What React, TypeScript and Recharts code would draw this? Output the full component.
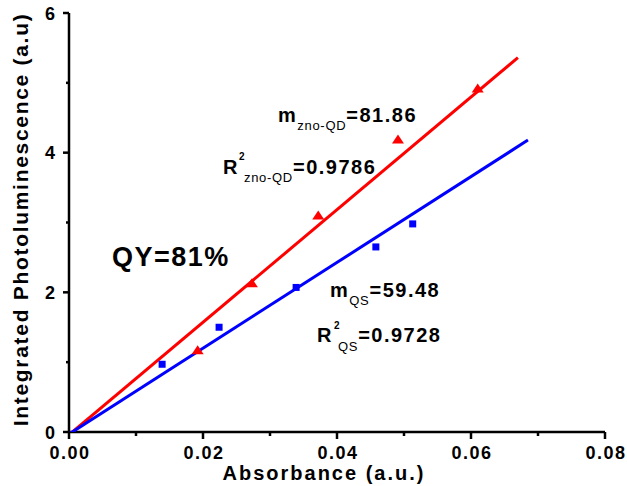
import { ScatterChart, Scatter, XAxis, YAxis } from 'recharts';

const FONT = "'Liberation Sans', Arial, sans-serif";

// ZnO-QD sample (red triangles)
const qdAbs = [0.0192, 0.0273, 0.0372, 0.0491, 0.061];
const qdPL = [1.17, 2.13, 3.1, 4.19, 4.92];
// quantum standard (blue squares)
const qsAbs = [0.0139, 0.0224, 0.0339, 0.0458, 0.0513];
const qsPL = [0.97, 1.5, 2.07, 2.65, 2.98];
// linear fits, end points
const qdFitAbs = [0, 0.067];
const qdFitPL = [-0.04, 5.36];
const qsFitAbs = [0, 0.0685];
const qsFitPL = [-0.03, 4.18];

const xTicks = [0, 0.01, 0.02, 0.03, 0.04, 0.05, 0.06, 0.07, 0.08];
const yTicks = [0, 1, 2, 3, 4, 5, 6];

const zip = (xs: number[], ys: number[]) => xs.map((x, i) => ({ x, y: ys[i] }));

const qdData = zip(qdAbs, qdPL);
const qsData = zip(qsAbs, qsPL);
const qdFit = zip(qdFitAbs, qdFitPL);
const qsFit = zip(qsFitAbs, qsFitPL);

function XTick({ x, y, payload }: any) {
  const v = payload.value as number;
  const major = Math.round(v * 100) % 2 === 0;
  return (
    <g>
      <line x1={x} x2={x} y1={y} y2={y + (major ? 7 : 4)} stroke="#000" strokeWidth={2.5} />
      {major && (
        <text x={x + 1} y={y + 26.5} textAnchor="middle" fontFamily={FONT} fontWeight="bold" fontSize={18}
          style={{ letterSpacing: 1.5 }} fill="#000">
          {v.toFixed(2)}
        </text>
      )}
    </g>
  );
}

function YTick({ x, y, payload }: any) {
  const v = payload.value as number;
  const major = v % 2 === 0;
  return (
    <g>
      <line x1={x} x2={x - (major ? 6 : 3)} y1={y} y2={y} stroke="#000" strokeWidth={2.5} />
      {major && (
        <text x={x - 14} y={y + 6.5} textAnchor="end" fontFamily={FONT} fontWeight="bold" fontSize={18} fill="#000">
          {v}
        </text>
      )}
    </g>
  );
}

const Triangle = ({ cx, cy }: any) => (
  <polygon points={`${cx - 6},${cy + 4} ${cx + 6},${cy + 4} ${cx},${cy - 5}`} fill="#ff0000" />
);
const Square = ({ cx, cy }: any) => <rect x={cx - 3.5} y={cy - 3.5} width={7} height={7} fill="#0000ff" />;
const NoDot = () => <g />;

const bold = { fontFamily: FONT, fontWeight: 'bold' as const, fill: '#000' };
const sub = { fontSize: 13, fontWeight: 'normal' as const, style: { letterSpacing: 0.7 } };

export default function App() {
  return (
    <div style={{ position: 'absolute', left: 0, top: 0, width: 627, height: 486, background: '#fff' }}>
      <ScatterChart width={627} height={486} margin={{ top: 13, right: 22, bottom: 0, left: 0 }}>
        <XAxis
          type="number"
          dataKey="x"
          domain={[0, 0.08]}
          ticks={xTicks}
          interval={0}
          allowDataOverflow
          tick={<XTick />}
          tickLine={false}
          tickSize={0}
          tickMargin={0}
          height={54}
          axisLine={{ stroke: '#000', strokeWidth: 2.5 }}
          label={(p: any) => (
            <text x={p.viewBox.x + p.viewBox.width / 2 - 13} y={p.viewBox.y + 48} textAnchor="middle"
              fontSize={20} style={{ letterSpacing: 2 }} {...bold}>
              Absorbance (a.u.)
            </text>
          )}
        />
        <YAxis
          type="number"
          dataKey="y"
          domain={[0, 6]}
          ticks={yTicks}
          interval={0}
          allowDataOverflow
          tick={<YTick />}
          tickLine={false}
          tickSize={0}
          tickMargin={0}
          width={69}
          axisLine={{ stroke: '#000', strokeWidth: 2.5 }}
          label={(p: any) => {
            const cx = p.viewBox.x + 28;
            const cy = p.viewBox.y + p.viewBox.height / 2 - 3;
            return (
              <text x={cx} y={cy} transform={`rotate(-90, ${cx}, ${cy})`} textAnchor="middle"
                fontSize={21} style={{ letterSpacing: 1.7 }} {...bold}>
                Integrated Photoluminescence (a.u)
              </text>
            );
          }}
        />
        <Scatter data={qdFit} line={{ stroke: '#ff0000', strokeWidth: 3 }} shape={<NoDot />} isAnimationActive={false} />
        <Scatter data={qsFit} line={{ stroke: '#0000ff', strokeWidth: 3 }} shape={<NoDot />} isAnimationActive={false} />
        <Scatter data={qdData} shape={<Triangle />} isAnimationActive={false} />
        <Scatter data={qsData} shape={<Square />} isAnimationActive={false} />
      </ScatterChart>
      <svg width={627} height={486} style={{ position: 'absolute', left: 0, top: 0, pointerEvents: 'none' }}>
        <text x={278} y={122} fontSize={20} style={{ letterSpacing: 1.5 }} {...bold}>
          m<tspan y={130} {...sub}>zno-QD</tspan><tspan y={122}>=81.86</tspan>
        </text>
        <text x={223} y={174} fontSize={20} style={{ letterSpacing: 1.5 }} {...bold}>
          R<tspan dx={5} y={182} {...sub}>zno-QD</tspan><tspan y={174}>=0.9786</tspan>
        </text>
        <text x={239} y={160} fontSize={10} {...bold}>2</text>
        <text x={112} y={266} fontSize={27} style={{ letterSpacing: 1.5 }} {...bold}>
          QY=81%
        </text>
        <text x={330} y={297} fontSize={20} style={{ letterSpacing: 1.5 }} {...bold}>
          m<tspan y={305} {...sub}>QS</tspan><tspan y={297}>=59.48</tspan>
        </text>
        <text x={317} y={342} fontSize={20} style={{ letterSpacing: 1.5 }} {...bold}>
          R<tspan dx={5} y={351} {...sub}>QS</tspan><tspan y={342}>=0.9728</tspan>
        </text>
        <text x={334} y={329} fontSize={10} {...bold}>2</text>
      </svg>
    </div>
  );
}
